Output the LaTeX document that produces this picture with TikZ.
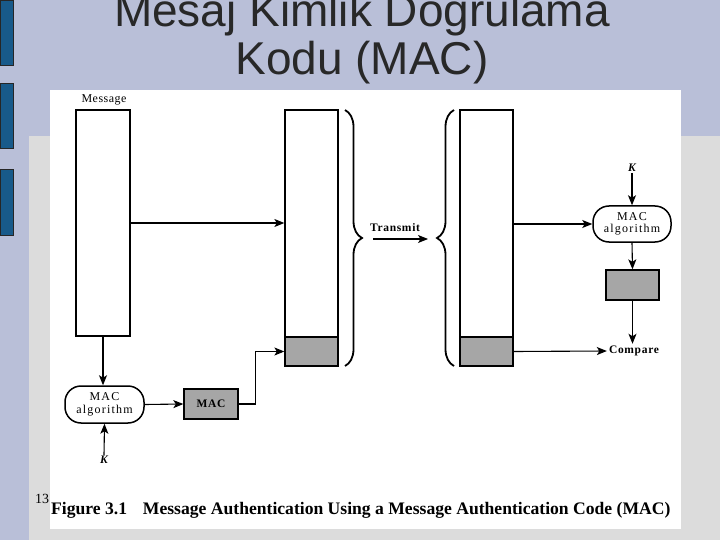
\documentclass[tikz,border=0pt]{standalone}
\usepackage{fontspec}
\setmainfont{Liberation Serif}
\newfontfamily\titlefont{Liberation Sans}
\usetikzlibrary{arrows.meta, positioning, calc, decorations.pathreplacing}
\definecolor{cSlide}{RGB}{185,191,216}
\definecolor{cPanel}{RGB}{220,220,220}
\definecolor{cBar}{RGB}{24,90,138}
\definecolor{cTitle}{RGB}{40,40,40}
\definecolor{cTag}{RGB}{166,166,166}
\tikzset{
	title/.style={font=\titlefont\fontsize{46}{48}\selectfont, text=cTitle, anchor=base, inner sep=0pt},
	bar/.style  ={rectangle, draw=black, line width=1.3pt, fill=white, inner sep=0pt},
	tag/.style  ={rectangle, draw=black, line width=1.3pt, fill=cTag, inner sep=0pt},
	alg/.style  ={rectangle, rounded corners=16pt, draw=black, line width=1.5pt, fill=white, align=center, inner sep=0pt, font=\fontsize{12}{12.5}\selectfont\addfontfeatures{LetterSpace=10}},
	lbl/.style  ={font=\bfseries\fontsize{11.5}{12}\selectfont\addfontfeatures{LetterSpace=6}, inner sep=2pt},
	key/.style  ={font=\bfseries\itshape\fontsize{11.5}{12}\selectfont, inner sep=1pt},
	sig/.style  ={-{Stealth[length=10pt, width=8pt, inset=2.5pt]}, line width=1.1pt},
	brc/.style  ={decorate, decoration={brace, amplitude=17pt}, line width=1.8pt},
}
\begin{document}
\begin{tikzpicture}[x=1pt, y=-1pt]
	\useasboundingbox (0,0) rectangle (720,540);
	% slide background
	\fill[cSlide] (0,0) rectangle (720,540);
	\fill[cPanel] (29,136) rectangle (720,540);
	\foreach \ya/\yb in {0/65, 83/148, 169/235}
		\draw[fill=cBar, draw=black!85, line width=0.6pt] (0,\ya) rectangle (13,\yb);
	\fill[white] (50,90) rectangle (681,529);
	\node[title] (ttlA) at (362,27) {Mesaj Kimlik Doğrulama};
	\node[title] (ttlB) at (362,75) {Kodu (MAC)};

	% sender side
	\node[font=\fontsize{12}{12}\selectfont\addfontfeatures{LetterSpace=4}] (msgLbl) at (104,100) {Message};
	\node[bar, minimum width=54pt, minimum height=226pt] (msgL) at (103,223) {};
	\node[alg, minimum width=79pt, minimum height=37pt] (algL) at (104.5,404.5) {MAC\\algorithm};
	\node[key] (kL) at (104,460) {K};
	\node[tag, lbl, minimum width=54pt, minimum height=30pt] (macL) at (211,404) {MAC};

	% transmitted message
	\node[bar, minimum width=53pt, minimum height=256pt] (rx2) at (311.5,238) {};
	\node[tag, minimum width=53pt, minimum height=29pt] (tag2) at (311.5,351.5) {};
	\draw[brc] (345,110) -- (345,366);
	\coordinate (txS) at (373,239);
	\coordinate (txE) at (428,239);
	\node[lbl] (txLbl) at (395,228) {Transmit};
	\draw[brc] (454,366) -- (454,110);

	% receiver side
	\node[bar, minimum width=53pt, minimum height=256pt] (rx3) at (486.5,238) {};
	\node[tag, minimum width=53pt, minimum height=29pt] (tag3) at (486.5,351.5) {};
	\node[key] (kR) at (632,168) {K};
	\node[alg, minimum width=78pt, minimum height=36pt] (algR) at (632,224) {MAC\\algorithm};
	\node[tag, minimum width=53pt, minimum height=30pt] (macR) at (632.5,285) {};
	\node[lbl] (cmp) at (634,351) {Compare};

	% connectors
	\draw[sig] (msgL.east) -- (msgL.east -| rx2.west);
	\draw[sig] (msgL.south) -- (msgL.south |- algL.north);
	\draw[sig] (kL.north) -- (algL.south);
	\draw[sig] (algL.east) -- (macL.west);
	\draw[sig] (macL.east) -- ++(17,0) |- (tag2.west);
	\draw[sig] (txS) -- (txE);
	\draw[sig] (algR.west -| rx3.east) -- (algR.west);
	\draw[sig] (kR.south) -- (algR.north);
	\draw[sig] (algR.south) -- (macR.north);
	\draw[sig] (macR.south) -- (macR.south |- cmp.north);
	\draw[sig] (tag3.east) -- (cmp.west);

	% caption
	\node[anchor=base west, inner sep=0pt, font=\fontsize{14}{14}\selectfont] (pgNo) at (35,503) {13};
	\node[anchor=base west, inner sep=0pt, font=\bfseries\fontsize{17.6}{18}\selectfont] (cap) at (51,514) {Figure 3.1\hspace{0.9em}Message Authentication Using a Message Authentication Code (MAC)};
\end{tikzpicture}
\end{document}
